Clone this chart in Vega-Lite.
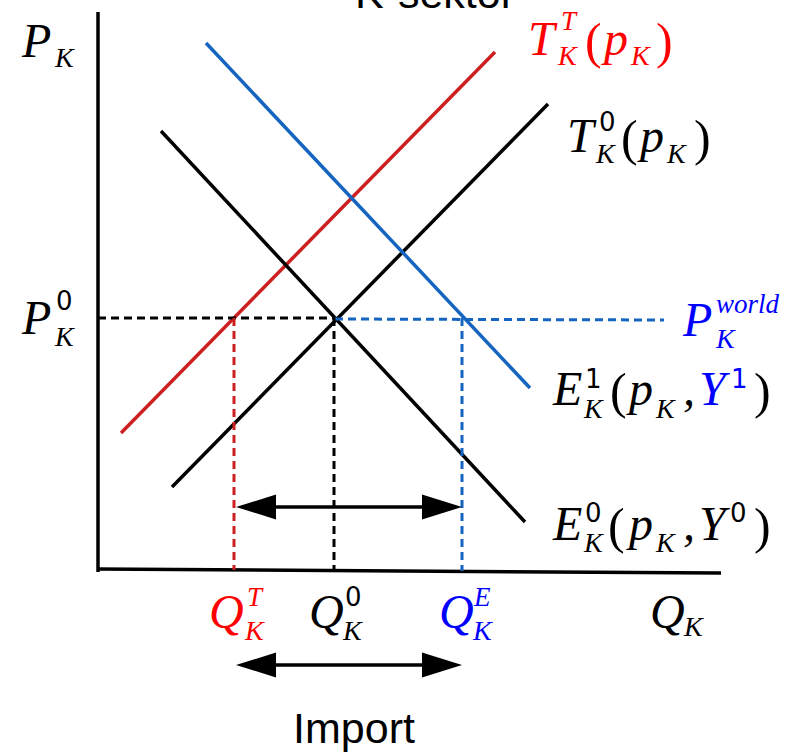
{
  "$schema": "https://vega.github.io/schema/vega-lite/v6.json",
  "width": 796,
  "height": 755,
  "padding": 0,
  "autosize": {"type": "none"},
  "background": "white",
  "config": {"view": {"stroke": null}},
  "datasets": {
    "segs": [
      {"name": "yaxis", "x": 98, "y": 12, "x2": 98, "y2": 572, "c": "k", "dashed": false},
      {"name": "xaxis", "x": 97, "y": 569, "x2": 721, "y2": 573, "c": "k", "dashed": false},
      {"name": "T_T", "x": 121, "y": 433, "x2": 495, "y2": 52, "c": "lr", "dashed": false},
      {"name": "T_0", "x": 172, "y": 487, "x2": 548, "y2": 104, "c": "k", "dashed": false},
      {"name": "E_0", "x": 161, "y": 131, "x2": 525, "y2": 522, "c": "k", "dashed": false},
      {"name": "E_1", "x": 206, "y": 43, "x2": 530, "y2": 388, "c": "lb", "dashed": false},
      {"name": "P0", "x": 98, "y": 318, "x2": 335, "y2": 318, "c": "k", "dashed": true},
      {"name": "Pworld", "x": 335, "y": 319, "x2": 664, "y2": 320, "c": "lb", "dashed": true},
      {"name": "QT", "x": 234, "y": 318, "x2": 234, "y2": 570, "c": "lr", "dashed": true},
      {"name": "Q0", "x": 334, "y": 318, "x2": 334, "y2": 570, "c": "k", "dashed": true},
      {"name": "QE", "x": 462, "y": 318, "x2": 462, "y2": 571, "c": "lb", "dashed": true},
      {"name": "arrow1", "x": 256, "y": 507, "x2": 442, "y2": 507, "c": "k", "dashed": false},
      {"name": "arrow2", "x": 256, "y": 665, "x2": 442, "y2": 665, "c": "k", "dashed": false}
    ],
    "heads": [
      {"x": 256, "y": 507, "dir": "l"},
      {"x": 442, "y": 507, "dir": "r"},
      {"x": 256, "y": 665, "dir": "l"},
      {"x": 442, "y": 665, "dir": "r"}
    ],
    "labels": [
      {"t": "P", "x": 22, "y": 57, "role": "main", "c": "k"},
      {"t": "K", "x": 55, "y": 67, "role": "sub", "c": "k"},

      {"t": "P", "x": 22, "y": 334, "role": "main", "c": "k"},
      {"t": "0", "x": 56, "y": 310, "role": "digit", "c": "k"},
      {"t": "K", "x": 55, "y": 346, "role": "sub", "c": "k"},

      {"t": "T", "x": 528, "y": 55, "role": "main", "c": "r"},
      {"t": "T", "x": 561, "y": 30, "role": "supl", "c": "r"},
      {"t": "K", "x": 558, "y": 65, "role": "sub", "c": "r"},
      {"t": "(", "x": 585, "y": 58, "role": "paren", "c": "r"},
      {"t": "p", "x": 604, "y": 55, "role": "main", "c": "r"},
      {"t": "K", "x": 631, "y": 65, "role": "sub", "c": "r"},
      {"t": ")", "x": 656, "y": 58, "role": "paren", "c": "r"},

      {"t": "T", "x": 567, "y": 152, "role": "main", "c": "k"},
      {"t": "0", "x": 599, "y": 131, "role": "digit", "c": "k"},
      {"t": "K", "x": 596, "y": 163, "role": "sub", "c": "k"},
      {"t": "(", "x": 621, "y": 155, "role": "paren", "c": "k"},
      {"t": "p", "x": 640, "y": 152, "role": "main", "c": "k"},
      {"t": "K", "x": 667, "y": 163, "role": "sub", "c": "k"},
      {"t": ")", "x": 694, "y": 155, "role": "paren", "c": "k"},

      {"t": "P", "x": 683, "y": 336, "role": "main", "c": "b"},
      {"t": "world", "x": 716, "y": 313, "role": "supl", "c": "b"},
      {"t": "K", "x": 716, "y": 348, "role": "sub", "c": "b"},

      {"t": "E", "x": 553, "y": 405, "role": "main", "c": "k"},
      {"t": "1", "x": 585, "y": 388, "role": "digit", "c": "k"},
      {"t": "K", "x": 584, "y": 418, "role": "sub", "c": "k"},
      {"t": "(", "x": 610, "y": 408, "role": "paren", "c": "k"},
      {"t": "p", "x": 629, "y": 405, "role": "main", "c": "k"},
      {"t": "K", "x": 656, "y": 418, "role": "sub", "c": "k"},
      {"t": ",", "x": 683, "y": 405, "role": "main", "c": "k"},
      {"t": "Y", "x": 699, "y": 405, "role": "main", "c": "b"},
      {"t": "1", "x": 731, "y": 388, "role": "digit", "c": "b"},
      {"t": ")", "x": 754, "y": 408, "role": "paren", "c": "k"},

      {"t": "E", "x": 553, "y": 540, "role": "main", "c": "k"},
      {"t": "0", "x": 585, "y": 522, "role": "digit", "c": "k"},
      {"t": "K", "x": 584, "y": 552, "role": "sub", "c": "k"},
      {"t": "(", "x": 608, "y": 543, "role": "paren", "c": "k"},
      {"t": "p", "x": 629, "y": 540, "role": "main", "c": "k"},
      {"t": "K", "x": 656, "y": 552, "role": "sub", "c": "k"},
      {"t": ",", "x": 683, "y": 540, "role": "main", "c": "k"},
      {"t": "Y", "x": 699, "y": 540, "role": "main", "c": "k"},
      {"t": "0", "x": 730, "y": 522, "role": "digit", "c": "k"},
      {"t": ")", "x": 754, "y": 543, "role": "paren", "c": "k"},

      {"t": "Q", "x": 209, "y": 628, "role": "main", "c": "r"},
      {"t": "T", "x": 247, "y": 606, "role": "supl", "c": "r"},
      {"t": "K", "x": 245, "y": 640, "role": "sub", "c": "r"},
      {"t": "Q", "x": 309, "y": 628, "role": "main", "c": "k"},
      {"t": "0", "x": 345, "y": 606, "role": "digit", "c": "k"},
      {"t": "K", "x": 343, "y": 640, "role": "sub", "c": "k"},
      {"t": "Q", "x": 439, "y": 628, "role": "main", "c": "b"},
      {"t": "E", "x": 474, "y": 606, "role": "supl", "c": "b"},
      {"t": "K", "x": 473, "y": 640, "role": "sub", "c": "b"},

      {"t": "Q", "x": 650, "y": 628, "role": "main", "c": "k"},
      {"t": "K", "x": 684, "y": 636, "role": "sub", "c": "k"},

      {"t": "K-sektor", "x": 435, "y": 8, "role": "sans", "c": "k"},
      {"t": "Import", "x": 354, "y": 743, "role": "sans", "c": "k"}
    ]
  },
  "encoding": {
    "x": {"field": "x", "type": "quantitative", "scale": {"domain": [0, 796], "nice": false, "zero": false}, "axis": null},
    "y": {"field": "y", "type": "quantitative", "scale": {"domain": [0, 755], "nice": false, "zero": false, "reverse": true}, "axis": null},
    "color": {"field": "c", "type": "nominal", "legend": null,
      "scale": {"domain": ["k", "r", "b", "lr", "lb"], "range": ["#000000", "#ff0000", "#0000ff", "#cc2020", "#1565c0"]}}
  },
  "layer": [
    {
      "data": {"name": "segs"},
      "transform": [{"filter": "!datum.dashed"}],
      "mark": {"type": "rule", "strokeWidth": 3.5},
      "encoding": {"x2": {"field": "x2"}, "y2": {"field": "y2"}}
    },
    {
      "data": {"name": "segs"},
      "transform": [{"filter": "datum.dashed"}],
      "mark": {"type": "rule", "strokeWidth": 3, "strokeDash": [8, 5]},
      "encoding": {"x2": {"field": "x2"}, "y2": {"field": "y2"}}
    },
    {
      "data": {"name": "heads"},
      "transform": [{"filter": "datum.dir == 'l'"}],
      "mark": {"type": "point", "filled": true, "opacity": 1, "size": 1600, "shape": "M1,-0.62L-1,0L1,0.62Z"},
      "encoding": {"color": {"value": "#000000"}}
    },
    {
      "data": {"name": "heads"},
      "transform": [{"filter": "datum.dir == 'r'"}],
      "mark": {"type": "point", "filled": true, "opacity": 1, "size": 1600, "shape": "M-1,-0.62L1,0L-1,0.62Z"},
      "encoding": {"color": {"value": "#000000"}}
    },
    {
      "data": {"name": "labels"},
      "transform": [{"filter": "datum.role == 'main'"}],
      "mark": {"type": "text", "font": "Liberation Serif", "fontStyle": "italic", "fontSize": 48, "align": "left", "baseline": "alphabetic"},
      "encoding": {"text": {"field": "t"}}
    },
    {
      "data": {"name": "labels"},
      "transform": [{"filter": "datum.role == 'sub'"}],
      "mark": {"type": "text", "font": "Liberation Serif", "fontStyle": "italic", "fontSize": 28, "align": "left", "baseline": "alphabetic"},
      "encoding": {"text": {"field": "t"}}
    },
    {
      "data": {"name": "labels"},
      "transform": [{"filter": "datum.role == 'supl'"}],
      "mark": {"type": "text", "font": "Liberation Serif", "fontStyle": "italic", "fontSize": 27, "align": "left", "baseline": "alphabetic"},
      "encoding": {"text": {"field": "t"}}
    },
    {
      "data": {"name": "labels"},
      "transform": [{"filter": "datum.role == 'digit'"}],
      "mark": {"type": "text", "font": "DejaVu Sans", "fontSize": 26, "align": "left", "baseline": "alphabetic"},
      "encoding": {"text": {"field": "t"}}
    },
    {
      "data": {"name": "labels"},
      "transform": [{"filter": "datum.role == 'paren'"}],
      "mark": {"type": "text", "font": "Liberation Serif", "fontSize": 50, "align": "left", "baseline": "alphabetic"},
      "encoding": {"text": {"field": "t"}}
    },
    {
      "data": {"name": "labels"},
      "transform": [{"filter": "datum.role == 'sans'"}],
      "mark": {"type": "text", "font": "Liberation Sans", "fontSize": 43, "align": "center", "baseline": "alphabetic"},
      "encoding": {"text": {"field": "t"}}
    }
  ]
}
